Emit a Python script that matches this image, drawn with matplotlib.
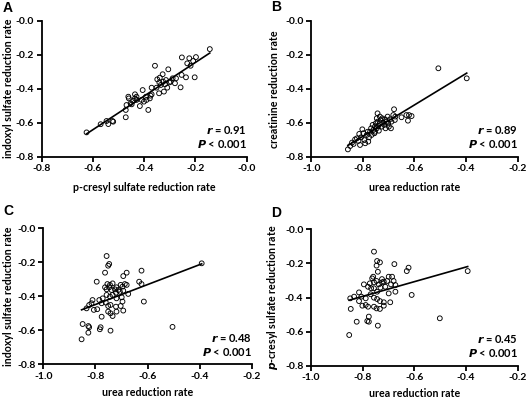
import numpy as np
import matplotlib
matplotlib.use("Agg")
import matplotlib.pyplot as plt

plt.rcParams['font.family'] = ['Lato', 'DejaVu Sans']
plt.rcParams['font.weight'] = 'bold'

# panel A: p-cresyl sulfate vs indoxyl sulfate
a_x = [-0.625, -0.570, -0.547, -0.540, -0.524, -0.521, -0.472, -0.472, -0.469, -0.462,
       -0.460, -0.453, -0.443, -0.436, -0.436, -0.430, -0.417, -0.410, -0.406, -0.401,
       -0.393, -0.391, -0.384, -0.378, -0.375, -0.371, -0.358, -0.352, -0.342, -0.341,
       -0.339, -0.335, -0.328, -0.326, -0.323, -0.319, -0.315, -0.310, -0.306, -0.302,
       -0.297, -0.289, -0.280, -0.276, -0.258, -0.254, -0.253, -0.237, -0.232, -0.224,
       -0.219, -0.209, -0.203, -0.198, -0.144, -0.430, -0.449, -0.371, -0.349]
a_y = [-0.657, -0.609, -0.590, -0.608, -0.590, -0.594, -0.568, -0.525, -0.496, -0.447,
       -0.457, -0.486, -0.472, -0.433, -0.457, -0.466, -0.502, -0.466, -0.408, -0.476,
       -0.447, -0.466, -0.525, -0.457, -0.441, -0.394, -0.265, -0.394, -0.427, -0.363,
       -0.335, -0.378, -0.315, -0.359, -0.417, -0.374, -0.349, -0.394, -0.286, -0.363,
       -0.359, -0.339, -0.368, -0.339, -0.392, -0.319, -0.216, -0.333, -0.251, -0.221,
       -0.265, -0.237, -0.333, -0.214, -0.167, -0.447, -0.492, -0.433, -0.345]

# panel B: urea vs creatinine
b_x = [-0.507, -0.397, -0.858, -0.849, -0.836, -0.830, -0.823, -0.817, -0.811, -0.807,
       -0.802, -0.798, -0.794, -0.785, -0.781, -0.776, -0.772, -0.768, -0.766, -0.762,
       -0.759, -0.755, -0.753, -0.750, -0.746, -0.743, -0.743, -0.740, -0.738, -0.734,
       -0.730, -0.727, -0.725, -0.721, -0.717, -0.714, -0.712, -0.708, -0.704, -0.702,
       -0.699, -0.695, -0.691, -0.689, -0.682, -0.679, -0.676, -0.674, -0.791, -0.814,
       -0.631, -0.621, -0.611, -0.625, -0.650, -0.746, -0.734, -0.753, -0.779, -0.842]
b_y = [-0.280, -0.339, -0.757, -0.737, -0.725, -0.698, -0.692, -0.707, -0.731, -0.686,
       -0.639, -0.662, -0.702, -0.672, -0.653, -0.686, -0.653, -0.633, -0.672, -0.613,
       -0.643, -0.662, -0.623, -0.604, -0.633, -0.594, -0.545, -0.619, -0.647, -0.604,
       -0.584, -0.623, -0.574, -0.600, -0.613, -0.580, -0.633, -0.594, -0.564, -0.604,
       -0.623, -0.580, -0.633, -0.594, -0.555, -0.521, -0.584, -0.564, -0.721, -0.666,
       -0.555, -0.555, -0.561, -0.588, -0.568, -0.574, -0.564, -0.653, -0.711, -0.717]

# panel C: urea vs indoxyl sulfate
c_x = [-0.757, -0.747, -0.751, -0.763, -0.693, -0.680, -0.623, -0.795, -0.632, -0.623,
       -0.754, -0.744, -0.734, -0.763, -0.757, -0.747, -0.738, -0.725, -0.719, -0.703,
       -0.696, -0.687, -0.680, -0.693, -0.706, -0.721, -0.674, -0.757, -0.744, -0.734,
       -0.719, -0.699, -0.772, -0.785, -0.811, -0.815, -0.824, -0.834, -0.806, -0.793,
       -0.776, -0.760, -0.751, -0.742, -0.721, -0.703, -0.696, -0.614, -0.751, -0.742,
       -0.734, -0.719, -0.693, -0.776, -0.849, -0.827, -0.824, -0.827, -0.783, -0.780,
       -0.742, -0.504, -0.853, -0.392, -0.712]
c_y = [-0.163, -0.210, -0.220, -0.261, -0.281, -0.261, -0.249, -0.314, -0.314, -0.328,
       -0.328, -0.333, -0.324, -0.347, -0.359, -0.347, -0.363, -0.359, -0.347, -0.333,
       -0.343, -0.328, -0.333, -0.367, -0.373, -0.379, -0.386, -0.392, -0.402, -0.392,
       -0.412, -0.406, -0.412, -0.422, -0.422, -0.441, -0.451, -0.471, -0.480, -0.476,
       -0.441, -0.437, -0.457, -0.451, -0.461, -0.457, -0.431, -0.431, -0.490, -0.500,
       -0.516, -0.490, -0.484, -0.520, -0.563, -0.575, -0.582, -0.614, -0.594, -0.582,
       -0.602, -0.580, -0.653, -0.206, -0.363]

# panel D: urea vs p-cresyl sulfate
d_x = [-0.756, -0.744, -0.733, -0.746, -0.741, -0.677, -0.622, -0.629, -0.759, -0.763,
       -0.795, -0.779, -0.772, -0.756, -0.746, -0.737, -0.725, -0.718, -0.705, -0.699,
       -0.686, -0.680, -0.690, -0.673, -0.712, -0.731, -0.756, -0.744, -0.673, -0.699,
       -0.769, -0.814, -0.833, -0.848, -0.805, -0.788, -0.814, -0.756, -0.744, -0.733,
       -0.718, -0.693, -0.610, -0.801, -0.788, -0.779, -0.756, -0.746, -0.733, -0.718,
       -0.846, -0.776, -0.782, -0.776, -0.823, -0.741, -0.852, -0.501, -0.393, -0.725,
       -0.767]
d_y = [-0.131, -0.186, -0.194, -0.213, -0.249, -0.204, -0.225, -0.245, -0.278, -0.288,
       -0.323, -0.337, -0.317, -0.311, -0.303, -0.323, -0.292, -0.307, -0.303, -0.278,
       -0.278, -0.303, -0.323, -0.327, -0.337, -0.342, -0.346, -0.366, -0.366, -0.376,
       -0.381, -0.370, -0.395, -0.405, -0.395, -0.405, -0.421, -0.401, -0.409, -0.421,
       -0.428, -0.428, -0.385, -0.448, -0.444, -0.454, -0.454, -0.464, -0.467, -0.448,
       -0.467, -0.512, -0.538, -0.542, -0.542, -0.565, -0.620, -0.522, -0.245, -0.311,
       -0.346]

y_ticks = [-0.8, -0.6, -0.4, -0.2, 0.0]
y_ticklabels = ['-0.8', '-0.6', '-0.4', '-0.2', '-0.0']
xa_ticks = [-0.8, -0.6, -0.4, -0.2, 0.0]
xa_ticklabels = ['-0.8', '-0.6', '-0.4', '-0.2', '-0.0']
xu_ticks = [-1.0, -0.8, -0.6, -0.4, -0.2]
xu_ticklabels = ['-1.0', '-0.8', '-0.6', '-0.4', '-0.2']

W, H = 528, 400

# axes box in pixels [left, top, right, bottom], letter position, label offsets
panels = [
    ('A', a_x, a_y, (41.7, 20.7, 246.7, 156.7), (-0.8, 0.0), xa_ticks, xa_ticklabels,
     'p-cresyl sulfate reduction rate', 'indoxyl sulfate reduction rate', '0.91',
     (3, 12), -0.135, -0.185),
    ('B', b_x, b_y, (311.3, 20.7, 517.5, 156.7), (-1.0, -0.2), xu_ticks, xu_ticklabels,
     'urea reduction rate', 'creatinine reduction rate', '0.89',
     (271, 11), -0.150, -0.185),
    ('C', c_x, c_y, (43.3, 228.3, 251.7, 364.3), (-1.0, -0.2), xu_ticks, xu_ticklabels,
     'urea reduction rate', 'indoxyl sulfate reduction rate', '0.48',
     (3, 215), -0.142, -0.17),
    ('D', d_x, d_y, (311.0, 229.3, 517.5, 365.7), (-1.0, -0.2), xu_ticks, xu_ticklabels,
     'urea reduction rate', r'$\it{p}$-cresyl sulfate reduction rate', '0.45',
     (271, 217), -0.150, -0.165),
]

fig = plt.figure(figsize=(W / 100, H / 100), dpi=100)

for (letter, xs, ys, px, xlim, xt, xtl, xlab, ylab, r,
     lpos, ylab_x, xlab_y) in panels:
    l, t, rr, bt = px
    ax = fig.add_axes([l / W, 1 - bt / H, (rr - l) / W, (bt - t) / H])
    xs = np.array(xs)
    ys = np.array(ys)
    ax.scatter(xs, ys, s=12, facecolors='none', edgecolors='black', linewidths=0.65, zorder=3)
    # regression line
    k, b = np.polyfit(xs, ys, 1)
    lx = np.array([xs.min(), xs.max()])
    ax.plot(lx, k * lx + b, color='black', lw=1.2, zorder=2)

    ax.set_xlim(xlim)
    ax.set_ylim(-0.8, 0.0)
    ax.set_xticks(xt)
    ax.set_xticklabels(xtl)
    ax.set_yticks(y_ticks)
    ax.set_yticklabels(y_ticklabels)
    for s in ['top', 'right']:
        ax.spines[s].set_visible(False)
    for s in ['left', 'bottom']:
        ax.spines[s].set_linewidth(1.3)
    ax.tick_params(direction='out', length=3.5, width=1.3, labelsize=7.5, pad=2)
    for tl in ax.get_xticklabels() + ax.get_yticklabels():
        tl.set_fontweight('bold')
    ax.set_xlabel(xlab, fontsize=7.7, fontweight='bold')
    ax.set_ylabel(ylab, fontsize=7.7, fontweight='bold')
    ax.xaxis.set_label_coords(0.5, xlab_y)
    ax.yaxis.set_label_coords(ylab_x, 0.5)

    ax.text(1.0, 0.196, r'$\bf{\it{r}}$ = ' + r, transform=ax.transAxes, ha='right', va='center',
            fontsize=8, fontweight='bold')
    ax.text(1.0, 0.093, r'$\bf{\it{P}}$ < 0.001', transform=ax.transAxes, ha='right', va='center',
            fontsize=8, fontweight='bold')

    fig.text(lpos[0] / W, 1 - lpos[1] / H, letter, fontsize=10, fontweight='bold',
             family='Liberation Sans', va='baseline', ha='left')

fig.savefig('out.png', dpi=100)
